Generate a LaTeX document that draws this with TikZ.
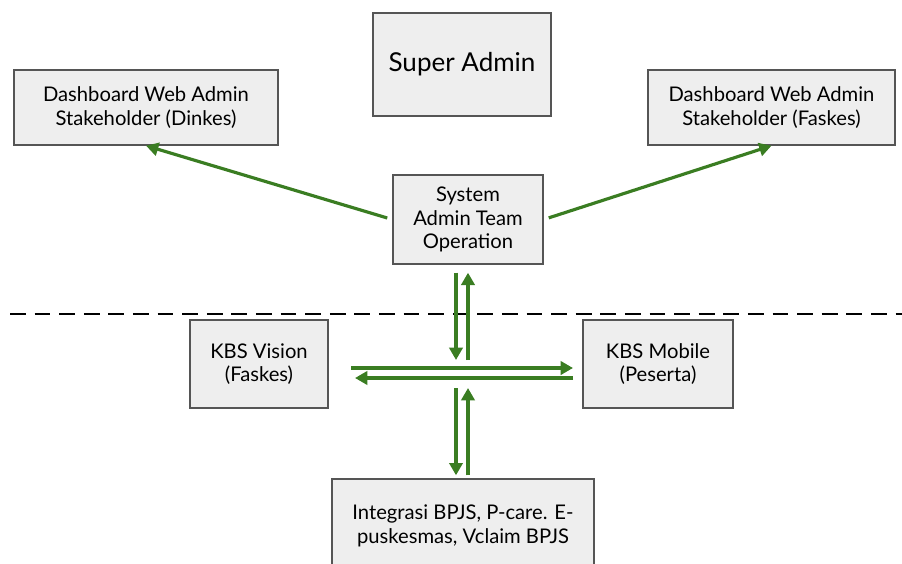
\documentclass[tikz,border=0pt]{standalone}
\usepackage{fontspec}
\setmainfont{Lato}
\usetikzlibrary{arrows.meta}
\definecolor{boxfill}{HTML}{EEEEEE}
\definecolor{boxline}{HTML}{555555}
\definecolor{arrgreen}{HTML}{3A7D22}

\begin{document}
\begin{tikzpicture}[x=0.02cm,y=-0.02cm,
  box/.style={draw=boxline,fill=boxfill,line width=0.8pt,align=center,
    font=\fontsize{11.5}{13.4}\selectfont,inner sep=0pt},
  flow/.style={draw=arrgreen,line width=1.8pt,
    -{Triangle[length=7pt,width=7.5pt]}}]
\useasboundingbox (0,0) rectangle (902,564);

\node[box,minimum width=178*0.02cm,minimum height=103*0.02cm,
  font=\fontsize{14.8}{17}\selectfont] (sa) at (462,64.5) {Super Admin};
\node[box,minimum width=264*0.02cm,minimum height=75*0.02cm] (dinkes) at (146,107.5)
  {Dashboard Web Admin\\Stakeholder (Dinkes)};
\node[box,minimum width=247*0.02cm,minimum height=75*0.02cm] (faskes) at (771.5,107.5)
  {Dashboard Web Admin\\Stakeholder (Faskes)};
\node[box,minimum width=150*0.02cm,minimum height=89*0.02cm] (sys) at (468,219.5)
  {System\\Admin Team\\Operation};
\node[box,minimum width=138*0.02cm,minimum height=88*0.02cm] (vision) at (259,364)
  {KBS Vision\\(Faskes)};
\node[box,minimum width=150*0.02cm,minimum height=88*0.02cm] (mobile) at (658,364)
  {KBS Mobile\\(Peserta)};
\node[box,minimum width=262*0.02cm,minimum height=94*0.02cm] (bpjs) at (463,526)
  {Integrasi BPJS, P-care. E-\\puskesmas, Vclaim BPJS};

% batas
\draw[dashed,line width=1pt,dash pattern=on 9pt off 5pt] (10,314) -- (902,314);

\coordinate (hubN) at (462,360);
\coordinate (hubS) at (462,388);
\coordinate (hubW) at (351,373);
\coordinate (hubE) at (573,373);

\draw[flow,shorten <=3pt] (sys.west) -- (dinkes.south);
\draw[flow,shorten <=3pt] (sys.east) -- (faskes.south);

\draw[flow] ([xshift=-6*0.02cm,yshift=-8*0.02cm]hubN |- sys.south) -- ([xshift=-6*0.02cm]hubN);
\draw[flow] ([xshift=6*0.02cm]hubN) -- ([xshift=6*0.02cm,yshift=-8*0.02cm]hubN |- sys.south);

\draw[flow] ([yshift=5*0.02cm]hubW) -- ([yshift=5*0.02cm]hubE);
\draw[flow] ([yshift=-5*0.02cm]hubE) -- ([yshift=-5*0.02cm,xshift=4*0.02cm]hubW);

\draw[flow] ([xshift=-6*0.02cm]hubS) -- ([xshift=-6*0.02cm,yshift=3*0.02cm]hubS |- bpjs.north);
\draw[flow] ([xshift=6*0.02cm,yshift=3*0.02cm]hubS |- bpjs.north) -- ([xshift=6*0.02cm]hubS);
\end{tikzpicture}
\end{document}
